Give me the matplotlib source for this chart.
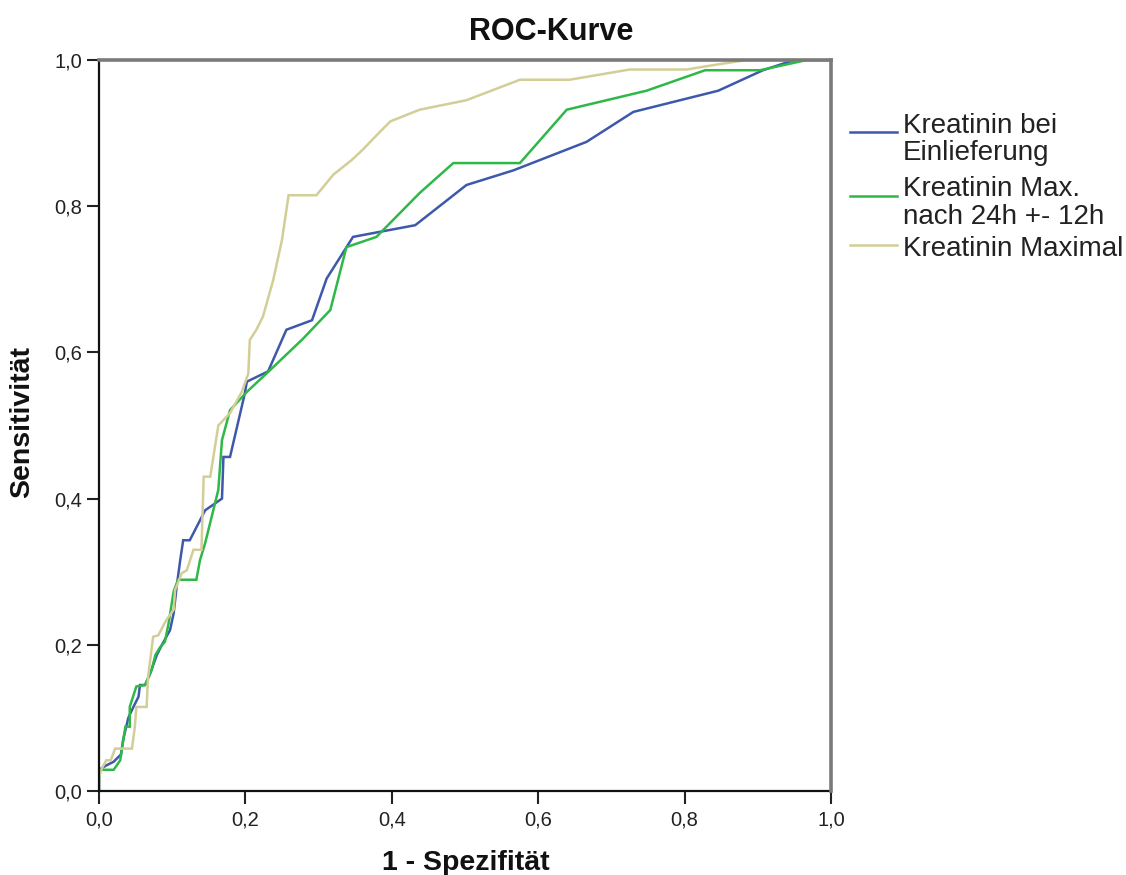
import matplotlib
matplotlib.use("Agg")
import matplotlib.pyplot as plt
from matplotlib.lines import Line2D

plt.rcParams['font.family'] = ['Liberation Sans', 'DejaVu Sans']

# ---- data ----
labels = ["Kreatinin bei\nEinlieferung", "Kreatinin Max.\nnach 24h +- 12h", "Kreatinin Maximal"]
colors = ["#3E58AC", "#2EB848", "#D3CE97"]

blue_x = [0, 0, 0.01, 0.02, 0.03, 0.033, 0.04, 0.047, 0.054, 0.056, 0.063, 0.07, 0.079, 0.086,
          0.097, 0.102, 0.106, 0.111, 0.115, 0.124, 0.145, 0.168, 0.170, 0.179, 0.199, 0.202,
          0.231, 0.256, 0.291, 0.311, 0.347, 0.384, 0.432, 0.502, 0.566, 0.666, 0.730, 0.846,
          0.907, 0.95, 1.0]
blue_y = [0, 0.029, 0.035, 0.04, 0.05, 0.07, 0.1, 0.115, 0.129, 0.145, 0.145, 0.161, 0.186, 0.2,
          0.22, 0.243, 0.279, 0.316, 0.343, 0.343, 0.384, 0.40, 0.457, 0.457, 0.543, 0.56,
          0.574, 0.631, 0.644, 0.701, 0.758, 0.765, 0.774, 0.829, 0.849, 0.888, 0.929, 0.958,
          0.986, 1.0, 1.0]

green_x = [0, 0, 0.01, 0.02, 0.029, 0.036, 0.042, 0.042, 0.051, 0.063, 0.072, 0.077, 0.083, 0.09,
           0.095, 0.102, 0.108, 0.133, 0.138, 0.145, 0.163, 0.168, 0.179, 0.202, 0.234, 0.279,
           0.316, 0.338, 0.379, 0.438, 0.484, 0.575, 0.639, 0.748, 0.828, 0.903, 0.967, 1.0]
green_y = [0, 0.029, 0.029, 0.029, 0.042, 0.088, 0.088, 0.115, 0.143, 0.145, 0.166, 0.186, 0.196,
           0.204, 0.229, 0.273, 0.289, 0.289, 0.316, 0.339, 0.412, 0.48, 0.521, 0.546, 0.576,
           0.619, 0.658, 0.744, 0.758, 0.818, 0.859, 0.859, 0.932, 0.958, 0.986, 0.986, 1.0, 1.0]

yellow_x = [0, 0, 0.004, 0.01, 0.016, 0.022, 0.045, 0.049, 0.051, 0.065, 0.067, 0.074, 0.081, 0.092,
            0.102, 0.104, 0.113, 0.12, 0.129, 0.14, 0.143, 0.152, 0.163, 0.179, 0.195, 0.204,
            0.206, 0.215, 0.224, 0.238, 0.25, 0.259, 0.297, 0.320, 0.345, 0.36, 0.384, 0.398,
            0.438, 0.502, 0.575, 0.643, 0.725, 0.803, 0.839, 0.885, 1.0]
yellow_y = [0, 0.02, 0.031, 0.042, 0.042, 0.058, 0.058, 0.088, 0.115, 0.115, 0.156, 0.211, 0.213,
            0.234, 0.248, 0.275, 0.298, 0.302, 0.33, 0.33, 0.43, 0.43, 0.50, 0.517, 0.546, 0.571,
            0.617, 0.631, 0.649, 0.699, 0.754, 0.815, 0.815, 0.843, 0.863, 0.877, 0.902, 0.916,
            0.932, 0.945, 0.973, 0.973, 0.987, 0.987, 0.993, 1.0, 1.0]

ticks = [0.0, 0.2, 0.4, 0.6, 0.8, 1.0]
tick_labels = ["0,0", "0,2", "0,4", "0,6", "0,8", "1,0"]

series = [(blue_x, blue_y), (green_x, green_y), (yellow_x, yellow_y)]

# ---- figure ----
W, H = 1126, 875
fig = plt.figure(figsize=(W / 100, H / 100), dpi=100)
ax = fig.add_axes([99 / W, 1 - 791 / H, (831 - 99) / W, (791 - 60) / H])

for (xs, ys), c in zip(series, colors):
    ax.plot(xs, ys, color=c, lw=1.8, solid_joinstyle='miter', zorder=2)

ax.set_xlim(0, 1)
ax.set_ylim(0, 1)
ax.set_xticks(ticks)
ax.set_xticklabels(tick_labels)
ax.set_yticks(ticks)
ax.set_yticklabels(tick_labels)
ax.tick_params(direction='out', length=9, width=1.5, color='#222222', labelsize=14.5,
               labelcolor='#222222')
ax.tick_params(axis='x', pad=5)
ax.tick_params(axis='y', pad=3)

for s in ['left', 'bottom']:
    ax.spines[s].set_color('#111111')
    ax.spines[s].set_linewidth(1.6)
for s in ['top', 'right']:
    ax.spines[s].set_color('#7a7a7a')
    ax.spines[s].set_linewidth(2.6)
    ax.spines[s].set_zorder(5)

# titles / labels
fig.text(551 / W, 1 - 32 / H, "ROC-Kurve", ha='center', va='center',
         fontsize=22, fontweight='bold', color='#111111')
fig.text(466 / W, 1 - 870 / H, "1 - Spezifität", ha='center', va='baseline',
         fontsize=20.5, fontweight='bold', color='#111111')
fig.text(22 / W, 1 - 422 / H, "Sensitivität", ha='center', va='center', rotation=90,
         fontsize=20.5, fontweight='bold', color='#111111')

# legend (manual, frameless)
line_y = [132, 196, 245]
text_base = [133, 196.5, 256.5]
for lab, c, ly, tb in zip(labels, colors, line_y, text_base):
    fig.add_artist(Line2D([850 / W, 897 / W], [1 - ly / H, 1 - ly / H],
                          color=c, lw=1.8, transform=fig.transFigure))
    first, *rest = lab.split("\n")
    fig.text(903 / W, 1 - tb / H, first, ha='left', va='baseline', fontsize=20,
             color='#222222')
    for i, r in enumerate(rest):
        fig.text(903 / W, 1 - (tb + 27 * (i + 1)) / H, r, ha='left', va='baseline',
                 fontsize=20, color='#222222')

fig.savefig("out.png", dpi=100, facecolor='white')
